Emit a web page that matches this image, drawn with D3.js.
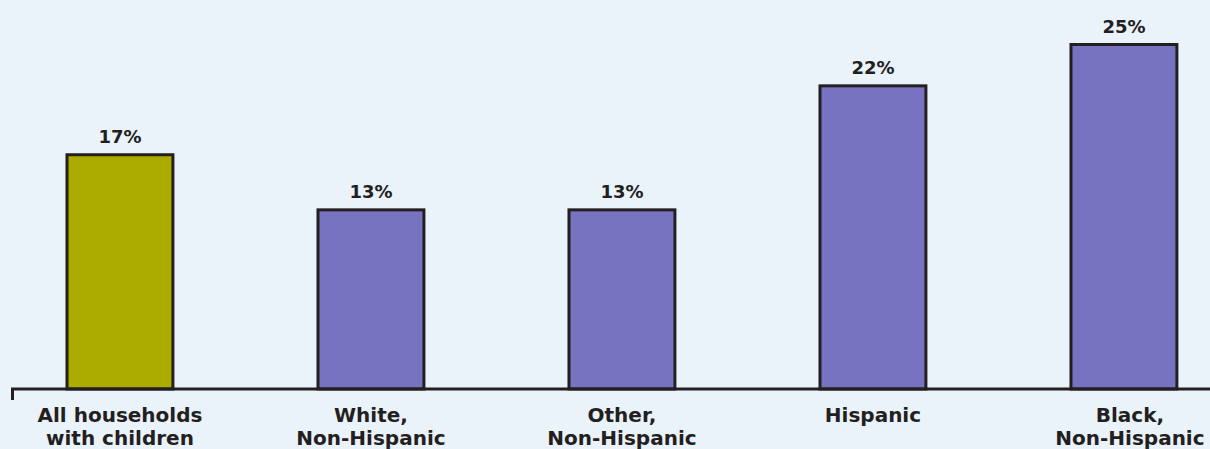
<!DOCTYPE html>
<html>
<head>
<meta charset="utf-8">
<script src="https://cdn.jsdelivr.net/npm/d3@7"></script>
<style>
  html, body { margin: 0; padding: 0; background: #eaf2fa; overflow: hidden; }
  text { font-family: "DejaVu Sans", "Open Sans", sans-serif; font-weight: 700; fill: #231f20; }
</style>
</head>
<body>
<div id="main"></div>
<script>
var categories = ['All households|with children', 'White,|Non-Hispanic', 'Other,|Non-Hispanic', 'Hispanic', 'Black,|Non-Hispanic'];
var values = [17, 13, 13, 22, 25];
var colors = ['#acac00', '#7773c1', '#7773c1', '#7773c1', '#7773c1'];

var width = 1210, height = 449;

var svg = d3.select('#main').append('svg')
    .attr('width', width).attr('height', height);

var x = d3.scaleBand()
    .domain(categories)
    .range([16.8, 1227.1])
    .paddingInner(0.578)
    .paddingOuter(0.2);

var y = d3.scaleLinear()
    .domain([0, 25])
    .range([389, 44.5]);

// bars
svg.selectAll('rect.bar')
    .data(values)
    .enter().append('rect')
    .attr('class', 'bar')
    .attr('x', function(d, i) { return x(categories[i]); })
    .attr('y', function(d) { return y(d); })
    .attr('width', x.bandwidth())
    .attr('height', function(d) { return y(0) - y(d); })
    .attr('fill', function(d, i) { return colors[i]; })
    .attr('stroke', '#231f20')
    .attr('stroke-width', 3);

// baseline + little tick at the left end
svg.append('path')
    .attr('d', 'M12.5,' + (y(0) + 11) + 'V' + y(0) + 'H' + width)
    .attr('fill', 'none')
    .attr('stroke', '#231f20')
    .attr('stroke-width', 3);

// value labels
svg.selectAll('text.val')
    .data(values)
    .enter().append('text')
    .attr('class', 'val')
    .attr('x', function(d, i) { return x(categories[i]) + x.bandwidth() / 2; })
    .attr('y', function(d) { return y(d) - 12; })
    .attr('text-anchor', 'middle')
    .attr('font-size', 18)
    .text(function(d) { return d + '%'; });

// category labels (the last one sits a touch right, as in the original)
var cat = svg.selectAll('text.cat')
    .data(categories)
    .enter().append('text')
    .attr('class', 'cat')
    .attr('text-anchor', 'middle')
    .attr('font-size', 20)
    .attr('transform', function(d, i) {
        var nudge = i === categories.length - 1 ? 6 : 0;
        return 'translate(' + (x(d) + x.bandwidth() / 2 + nudge) + ',422)';
    });

cat.selectAll('tspan')
    .data(function(d) { return d.split('|'); })
    .enter().append('tspan')
    .attr('x', 0)
    .attr('dy', function(d, i) { return i ? 23 : 0; })
    .text(function(d) { return d; });
</script>
</body>
</html>
